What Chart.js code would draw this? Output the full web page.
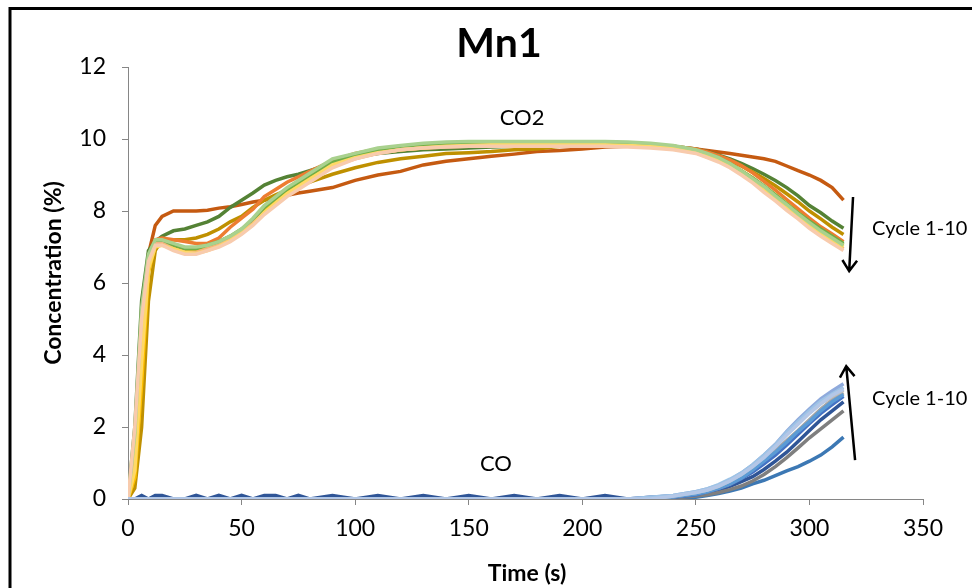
<!DOCTYPE html>
<html>
<head>
<meta charset="utf-8">
<title>Mn1</title>
<script src="https://cdn.jsdelivr.net/npm/chart.js@4.4.1/dist/chart.umd.min.js"></script>
<style>
  html, body { margin: 0; padding: 0; background: #fff; }
  #wrap { width: 972px; height: 588px; }
</style>
</head>
<body>
<div id="wrap"><canvas id="mn1Chart" width="972" height="588"></canvas></div>
<script>
// time grid (s)
const time = [0, 3, 6, 9, 12, 15, 20, 25, 30, 35, 40, 45, 50, 55, 60, 65, 70, 75, 80,
  90, 100, 110, 120, 130, 140, 150, 160, 170, 180, 190, 200, 210, 220, 230, 240,
  250, 255, 260, 265, 270, 275, 280, 285, 290, 295, 300, 305, 310, 315];

// CO2 concentration (%), cycles 1-10
const co2Cycle1 = [0, 1.2, 4.5, 6.8, 7.6, 7.85, 8.0, 8.0, 8.0, 8.02, 8.08, 8.12, 8.18, 8.25, 8.3, 8.38, 8.44, 8.5, 8.55,
  8.65, 8.85, 9.0, 9.1, 9.28, 9.38, 9.45, 9.52, 9.58, 9.65, 9.68, 9.72, 9.78, 9.8, 9.8, 9.78,
  9.72, 9.68, 9.64, 9.6, 9.55, 9.5, 9.45, 9.38, 9.25, 9.12, 9.0, 8.85, 8.65, 8.3];
const co2Cycle2 = [0, 2.0, 5.5, 6.9, 7.15, 7.3, 7.45, 7.5, 7.6, 7.7, 7.85, 8.1, 8.3, 8.5, 8.72, 8.85, 8.95, 9.02, 9.12,
  9.33, 9.5, 9.6, 9.65, 9.7, 9.72, 9.75, 9.78, 9.8, 9.85, 9.85, 9.85, 9.85, 9.85, 9.82, 9.8,
  9.72, 9.65, 9.55, 9.45, 9.32, 9.18, 9.02, 8.85, 8.65, 8.42, 8.15, 7.95, 7.72, 7.52];
const co2Cycle3 = [0, 0.3, 2.0, 5.5, 6.9, 7.2, 7.2, 7.2, 7.25, 7.35, 7.5, 7.7, 7.85, 8.1, 8.3, 8.45, 8.58, 8.68, 8.8,
  9.02, 9.2, 9.35, 9.45, 9.52, 9.6, 9.62, 9.65, 9.7, 9.72, 9.8, 9.82, 9.82, 9.82, 9.8, 9.78,
  9.7, 9.62, 9.52, 9.4, 9.25, 9.08, 8.9, 8.7, 8.48, 8.25, 8.0, 7.78, 7.55, 7.35];
const co2Cycle4 = [0, 1.0, 4.0, 6.6, 7.2, 7.25, 7.2, 7.15, 7.1, 7.1, 7.25, 7.55, 7.8, 8.05, 8.4, 8.6, 8.8, 8.95, 9.1,
  9.4, 9.6, 9.72, 9.8, 9.83, 9.86, 9.88, 9.88, 9.88, 9.88, 9.88, 9.88, 9.88, 9.86, 9.84, 9.8,
  9.72, 9.64, 9.54, 9.42, 9.26, 9.06, 8.82, 8.58, 8.32, 8.06, 7.8, 7.56, 7.36, 7.15];
const co2Cycle5 = [0, 0.6, 3.2, 6.3, 7.05, 7.1, 7.0, 6.9, 6.88, 6.95, 7.08, 7.22, 7.4, 7.65, 8.0, 8.25, 8.5, 8.7, 8.9,
  9.28, 9.5, 9.62, 9.7, 9.75, 9.8, 9.82, 9.83, 9.83, 9.83, 9.83, 9.83, 9.83, 9.82, 9.8, 9.75,
  9.65, 9.55, 9.45, 9.3, 9.12, 8.92, 8.68, 8.45, 8.2, 7.95, 7.7, 7.45, 7.25, 7.05];
const co2Cycle6 = [0, 1.5, 5.0, 6.7, 7.15, 7.15, 7.05, 6.95, 6.95, 7.05, 7.15, 7.3, 7.5, 7.75, 8.1, 8.35, 8.6, 8.8, 9.0,
  9.35, 9.55, 9.7, 9.78, 9.82, 9.85, 9.88, 9.9, 9.9, 9.9, 9.9, 9.9, 9.9, 9.88, 9.85, 9.8,
  9.68, 9.58, 9.48, 9.32, 9.12, 8.92, 8.7, 8.45, 8.2, 7.95, 7.72, 7.5, 7.3, 7.1];
const co2Cycle7 = [0, 1.2, 4.6, 6.6, 7.1, 7.1, 6.95, 6.85, 6.85, 6.95, 7.05, 7.2, 7.4, 7.65, 7.95, 8.2, 8.45, 8.65, 8.85,
  9.25, 9.45, 9.6, 9.7, 9.75, 9.78, 9.8, 9.82, 9.82, 9.82, 9.82, 9.82, 9.82, 9.8, 9.78, 9.72,
  9.62, 9.5, 9.4, 9.25, 9.05, 8.85, 8.6, 8.35, 8.1, 7.85, 7.6, 7.35, 7.15, 6.95];
const co2Cycle8 = [0, 0.8, 3.8, 6.4, 7.0, 7.05, 6.95, 6.85, 6.82, 6.9, 7.02, 7.18, 7.38, 7.62, 7.95, 8.22, 8.48, 8.68, 8.88,
  9.28, 9.48, 9.62, 9.7, 9.76, 9.8, 9.82, 9.84, 9.84, 9.84, 9.84, 9.84, 9.84, 9.82, 9.8, 9.74,
  9.64, 9.52, 9.42, 9.26, 9.06, 8.84, 8.6, 8.36, 8.1, 7.85, 7.6, 7.38, 7.18, 7.0];
const co2Cycle9 = [0, 1.8, 5.3, 6.8, 7.2, 7.2, 7.1, 7.0, 7.0, 7.05, 7.15, 7.3, 7.5, 7.8, 8.15, 8.4, 8.65, 8.85, 9.05,
  9.45, 9.6, 9.75, 9.82, 9.88, 9.92, 9.93, 9.93, 9.93, 9.93, 9.93, 9.93, 9.93, 9.92, 9.88, 9.82,
  9.7, 9.6, 9.48, 9.32, 9.12, 8.9, 8.68, 8.42, 8.18, 7.92, 7.68, 7.45, 7.25, 7.05];
const co2Cycle10 = [0, 2.0, 5.0, 6.6, 7.05, 7.05, 6.9, 6.8, 6.8, 6.9, 7.0, 7.15, 7.35, 7.6, 7.9, 8.15, 8.4, 8.6, 8.8,
  9.2, 9.45, 9.6, 9.7, 9.75, 9.78, 9.8, 9.8, 9.8, 9.8, 9.8, 9.8, 9.8, 9.78, 9.75, 9.7,
  9.6, 9.48, 9.36, 9.2, 9.0, 8.78, 8.52, 8.28, 8.02, 7.78, 7.52, 7.3, 7.1, 6.9];

// CO concentration (%), cycles 1-10
const coCycle1 = [0, 0, 0, 0, 0, 0, 0, 0, 0, 0, 0, 0, 0, 0, 0, 0, 0, 0, 0,
  0, 0, 0, 0, 0, 0, 0, 0, 0, 0, 0, 0, 0, 0, 0, 0,
  0.05, 0.1, 0.15, 0.22, 0.3, 0.42, 0.52, 0.65, 0.78, 0.9, 1.05, 1.22, 1.45, 1.72];
const coCycle2 = [0, 0, 0.1, 0, 0.1, 0.1, 0, 0, 0.1, 0, 0.1, 0, 0.1, 0, 0.1, 0.1, 0, 0.1, 0,
  0.1, 0, 0.1, 0, 0.1, 0, 0.1, 0, 0.1, 0, 0.1, 0, 0.1, 0, 0.05, 0.08,
  0.12, 0.18, 0.25, 0.35, 0.48, 0.62, 0.82, 1.05, 1.3, 1.6, 1.9, 2.2, 2.45, 2.7];
const coCycle3 = [0, 0, 0, 0, 0, 0, 0, 0, 0, 0, 0, 0, 0, 0, 0, 0, 0, 0, 0,
  0, 0, 0, 0, 0, 0, 0, 0, 0, 0, 0, 0, 0, 0, 0, 0.03,
  0.08, 0.12, 0.18, 0.26, 0.36, 0.5, 0.68, 0.9, 1.15, 1.42, 1.7, 1.95, 2.2, 2.45];
const coCycle4 = [0, 0, 0, 0, 0, 0, 0, 0, 0, 0, 0, 0, 0, 0, 0, 0, 0, 0, 0,
  0, 0, 0, 0, 0, 0, 0, 0, 0, 0, 0, 0, 0, 0, 0, 0.05,
  0.12, 0.2, 0.28, 0.4, 0.56, 0.75, 0.98, 1.22, 1.5, 1.8, 2.1, 2.38, 2.62, 2.85];
const coCycle5 = [0, 0, 0, 0, 0, 0, 0, 0, 0, 0, 0, 0, 0, 0, 0, 0, 0, 0, 0,
  0, 0, 0, 0, 0, 0, 0, 0, 0, 0, 0, 0, 0, 0, 0, 0.06,
  0.15, 0.22, 0.3, 0.42, 0.6, 0.82, 1.08, 1.35, 1.62, 1.9, 2.2, 2.5, 2.75, 2.95];
const coCycle6 = [0, 0, 0, 0, 0, 0, 0, 0, 0, 0, 0, 0, 0, 0, 0, 0, 0, 0, 0,
  0, 0, 0, 0, 0, 0, 0, 0, 0, 0, 0, 0, 0, 0, 0, 0.06,
  0.14, 0.2, 0.3, 0.42, 0.58, 0.8, 1.05, 1.3, 1.58, 1.88, 2.15, 2.45, 2.7, 2.9];
const coCycle7 = [0, 0, 0, 0, 0, 0, 0, 0, 0, 0, 0, 0, 0, 0, 0, 0, 0, 0, 0,
  0, 0, 0, 0, 0, 0, 0, 0, 0, 0, 0, 0, 0, 0, 0.05, 0.1,
  0.2, 0.28, 0.38, 0.52, 0.72, 0.95, 1.22, 1.52, 1.88, 2.2, 2.5, 2.78, 3.0, 3.2];
const coCycle8 = [0, 0, 0, 0, 0, 0, 0, 0, 0, 0, 0, 0, 0, 0, 0, 0, 0, 0, 0,
  0, 0, 0, 0, 0, 0, 0, 0, 0, 0, 0, 0, 0, 0, 0, 0.08,
  0.18, 0.25, 0.35, 0.5, 0.68, 0.9, 1.18, 1.48, 1.8, 2.1, 2.4, 2.65, 2.85, 3.02];
const coCycle9 = [0, 0, 0, 0, 0, 0, 0, 0, 0, 0, 0, 0, 0, 0, 0, 0, 0, 0, 0,
  0, 0, 0, 0, 0, 0, 0, 0, 0, 0, 0, 0, 0, 0, 0.05, 0.1,
  0.2, 0.28, 0.4, 0.55, 0.72, 0.95, 1.22, 1.5, 1.85, 2.15, 2.45, 2.72, 2.92, 3.1];
const coCycle10 = [0, 0, 0, 0, 0, 0, 0, 0, 0, 0, 0, 0, 0, 0, 0, 0, 0, 0, 0,
  0, 0, 0, 0, 0, 0, 0, 0, 0, 0, 0, 0, 0, 0, 0, 0.08,
  0.18, 0.25, 0.36, 0.5, 0.68, 0.9, 1.15, 1.45, 1.78, 2.08, 2.38, 2.65, 2.88, 3.05];

const co2Series = [co2Cycle1, co2Cycle2, co2Cycle3, co2Cycle4, co2Cycle5, co2Cycle6, co2Cycle7, co2Cycle8, co2Cycle9, co2Cycle10];
const coSeries = [coCycle1, coCycle2, coCycle3, coCycle4, coCycle5, coCycle6, coCycle7, coCycle8, coCycle9, coCycle10];

const co2Colors = ['#C55A11', '#548235', '#BF9000', '#ED7D31', '#FFC000', '#70AD47', '#F4B183', '#FFD966', '#A9D18E', '#F8CBAD'];
const coColors = ['#3C78B4', '#2F5597', '#7F7F7F', '#4472C4', '#A5A5A5', '#5B9BD5', '#8FAADC', '#BFBFBF', '#9DC3E6', '#B4C7E7'];

const xTicks = [0, 50, 100, 150, 200, 250, 300, 350];
const yTicks = [0, 2, 4, 6, 8, 10, 12];

const FONT = 'Lato, "Open Sans", sans-serif';

function toPoints(values) {
  return values.map((v, i) => ({ x: time[i], y: v }));
}

const datasets = [];
co2Series.forEach((vals, i) => {
  datasets.push({ label: 'CO2 cycle ' + (i + 1), data: toPoints(vals), borderColor: co2Colors[i], order: 20 - i });
});
coSeries.forEach((vals, i) => {
  datasets.push({ label: 'CO cycle ' + (i + 1), data: toPoints(vals), borderColor: coColors[i], order: 10 - i });
});

// annotations: texts, arrows, frame
const decorations = {
  id: 'decorations',
  beforeDraw(chart) {
    const c = chart.ctx;
    c.save();
    c.fillStyle = '#fff';
    c.fillRect(0, 0, chart.width, chart.height);
    c.strokeStyle = '#000';
    c.lineWidth = 3;
    c.beginPath();
    c.moveTo(10, chart.height);
    c.lineTo(10, 8.5);
    c.lineTo(chart.width, 8.5);
    c.stroke();
    c.restore();
  },
  afterDraw(chart) {
    const c = chart.ctx;
    const xs = chart.scales.x, ys = chart.scales.y;
    const px = t => xs.getPixelForValue(t);
    const py = v => ys.getPixelForValue(v);
    c.save();
    c.fillStyle = '#000';
    c.textBaseline = 'alphabetic';

    c.font = 'bold 41px ' + FONT;
    c.textAlign = 'center';
    c.fillText('Mn1', 499, 57);

    c.font = 'bold 23px ' + FONT;
    c.fillText('Time (s)', 527, 581);
    c.save();
    c.translate(61, 273);
    c.rotate(-Math.PI / 2);
    c.fillText('Concentration (%)', 0, 0);
    c.restore();

    c.font = '22px ' + FONT;
    c.fillText('CO2', px(173.5), py(10.39));
    c.fillText('CO', px(162), py(0.78));
    c.textAlign = 'left';
    c.font = '20px ' + FONT;
    c.fillText('Cycle 1-10', px(327.6), py(7.33));
    c.fillText('Cycle 1-10', px(327.6), py(2.61));

    function arrow(t0, v0, t1, v1) {
      const x0 = px(t0), y0 = py(v0), x1 = px(t1), y1 = py(v1);
      const ang = Math.atan2(y1 - y0, x1 - x0);
      const len = 13, spread = 0.6;
      c.strokeStyle = '#000';
      c.lineWidth = 2.5;
      c.beginPath();
      c.moveTo(x0, y0);
      c.lineTo(x1, y1);
      c.moveTo(x1 - len * Math.cos(ang - spread), y1 - len * Math.sin(ang - spread));
      c.lineTo(x1, y1);
      c.lineTo(x1 - len * Math.cos(ang + spread), y1 - len * Math.sin(ang + spread));
      c.stroke();
    }
    arrow(319.2, 8.39, 317.5, 6.33);
    arrow(320.1, 1.08, 316.2, 3.69);
    c.restore();
  }
};

const ctx = document.getElementById('mn1Chart').getContext('2d');
const chart = new Chart(ctx, {
  type: 'line',
  data: { datasets: datasets },
  options: {
    responsive: false,
    animation: false,
    events: [],
    layout: { padding: { top: 67, right: 49, left: 0, bottom: 0 } },
    elements: {
      line: { borderWidth: 3.5, tension: 0, fill: false },
      point: { radius: 0 }
    },
    plugins: {
      legend: { display: false },
      title: { display: false },
      tooltip: { enabled: false }
    },
    scales: {
      x: {
        type: 'linear',
        min: 0,
        max: 350,
        afterFit(scale) { scale.height = 89; },
        afterBuildTicks(scale) { scale.ticks = xTicks.map(v => ({ value: v })); },
        grid: { drawOnChartArea: false, drawTicks: true, tickLength: 6, color: '#868686' },
        border: { color: '#868686', width: 1 },
        ticks: { color: '#000', font: { family: FONT, size: 23 }, padding: 10, maxRotation: 0 }
      },
      y: {
        min: 0,
        max: 12,
        afterFit(scale) { scale.width = 128; },
        afterBuildTicks(scale) { scale.ticks = yTicks.map(v => ({ value: v })); },
        grid: { drawOnChartArea: false, drawTicks: true, tickLength: 6, color: '#868686' },
        border: { color: '#868686', width: 1 },
        ticks: { color: '#000', font: { family: FONT, size: 23 }, padding: 16 }
      }
    }
  },
  plugins: [decorations]
});
</script>
</body>
</html>
